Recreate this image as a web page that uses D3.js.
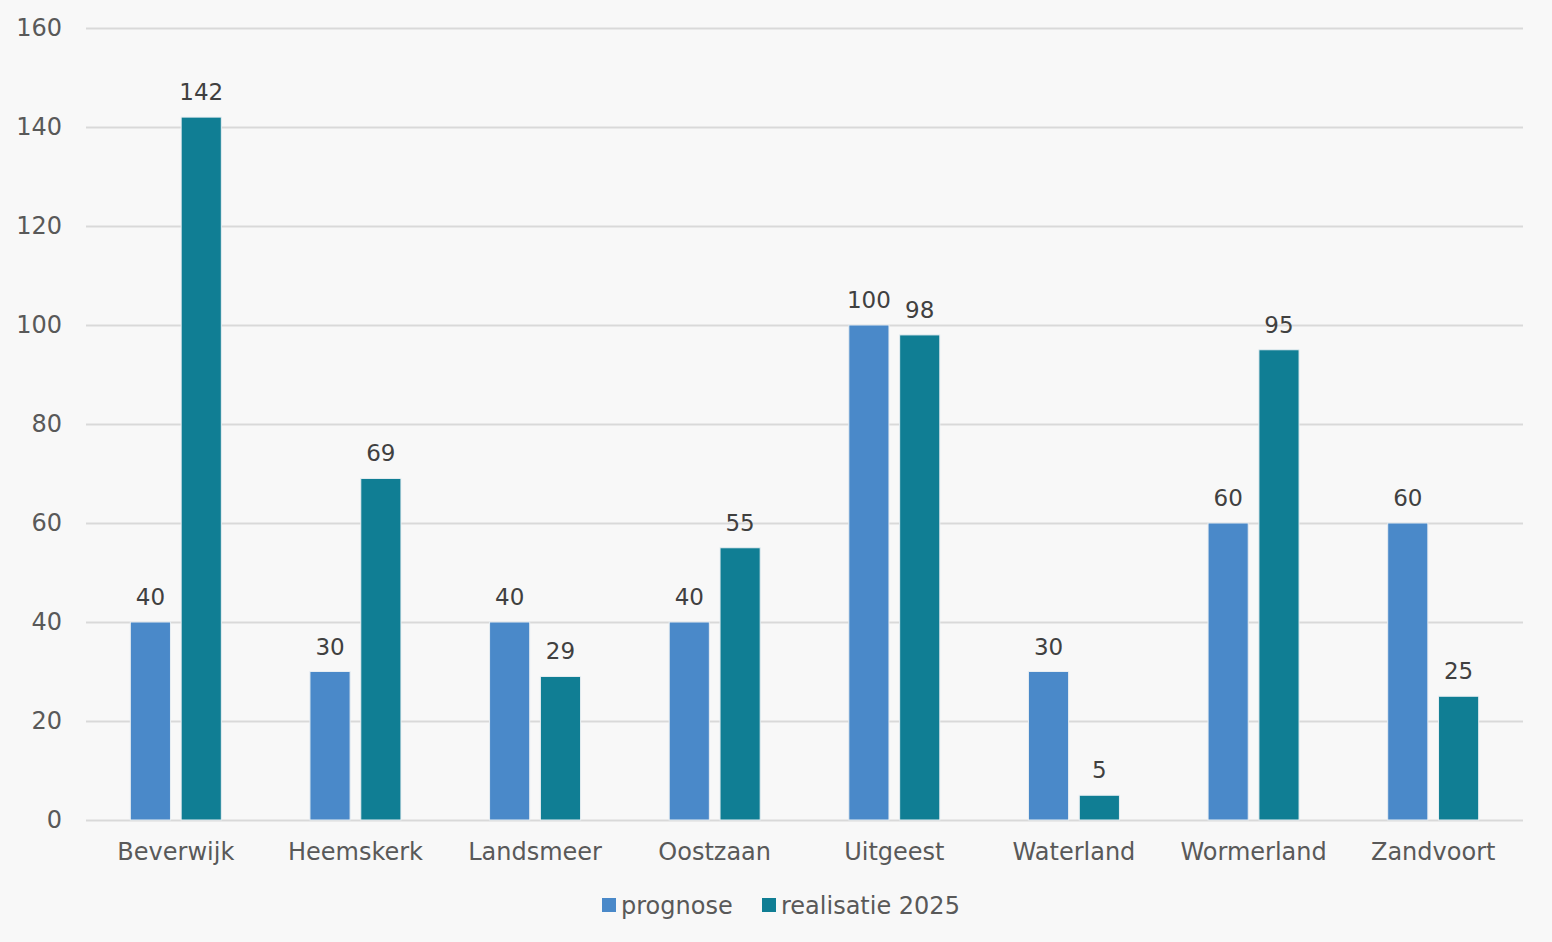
<!DOCTYPE html>
<html>
<head>
<meta charset="utf-8">
<script src="https://cdn.jsdelivr.net/npm/d3@7"></script>
<style>
	body { margin: 0; background: #f8f8f8; }
	svg { display: block; font-family: "DejaVu Sans", Verdana, sans-serif; }
</style>
</head>
<body>
<svg width="1552" height="942"></svg>
<script>
// data
var gemeenten = ["Beverwijk", "Heemskerk", "Landsmeer", "Oostzaan", "Uitgeest", "Waterland", "Wormerland", "Zandvoort"];
var prognose = [40, 30, 40, 40, 100, 30, 60, 60];
var realisatie = [142, 69, 29, 55, 98, 5, 95, 25];
var series = ["prognose", "realisatie 2025"];
var yTicks = [0, 20, 40, 60, 80, 100, 120, 140, 160];
var colors = ["#4a89c9", "#107e94"];

var svg = d3.select("svg"),
	width = +svg.attr("width"),
	height = +svg.attr("height");

svg.append("rect").attr("width", width).attr("height", height).attr("fill", "#f8f8f8");

var plotLeft = 86, plotRight = 1523, plotTop = 28, plotBottom = 820;
var font = "'DejaVu Sans', Verdana, sans-serif";

var x = d3.scaleBand()
	.domain(gemeenten)
	.range([plotLeft, plotRight]);

var xInner = d3.scaleBand()
	.domain(series)
	.range([0, 91])
	.paddingInner(0.21);

var y = d3.scaleLinear()
	.domain([0, 160])
	.range([plotBottom, plotTop]);

// grid + y labels
var yAxis = d3.axisLeft(y)
	.tickValues(yTicks)
	.tickSize(-(plotRight - plotLeft))
	.tickPadding(24);

var gy = svg.append("g")
	.attr("transform", "translate(" + plotLeft + ",0)")
	.call(yAxis)
	.attr("font-family", font)
	.attr("font-size", 24);
gy.select(".domain").remove();
gy.selectAll(".tick line").attr("stroke", "#d9d9d9").attr("stroke-width", 2);
gy.selectAll(".tick text").attr("fill", "#595959");

// x labels
var xAxis = d3.axisBottom(x).tickSize(0).tickPadding(23);
var gx = svg.append("g")
	.attr("transform", "translate(0," + plotBottom + ")")
	.call(xAxis)
	.attr("font-family", font)
	.attr("font-size", 24);
gx.select(".domain").remove();
gx.selectAll(".tick text").attr("fill", "#595959");

var rows = gemeenten.map(function (g, i) {
	return { name: g, values: [prognose[i], realisatie[i]] };
});

var groups = svg.append("g")
	.selectAll("g")
	.data(rows)
	.enter().append("g")
	.attr("transform", function (d) {
		return "translate(" + (x(d.name) + x.bandwidth() / 2 - 45.5) + ",0)";
	});

function pairs(d) {
	return d.values.map(function (v, j) { return { s: series[j], v: v, j: j }; });
}

groups.selectAll("rect")
	.data(pairs)
	.enter().append("rect")
	.attr("x", function (d) { return xInner(d.s); })
	.attr("y", function (d) { return y(d.v); })
	.attr("width", xInner.bandwidth())
	.attr("height", function (d) { return y(0) - y(d.v); })
	.attr("fill", function (d) { return colors[d.j]; })
	.attr("stroke", "#e8eef2")
	.attr("stroke-width", 1);

groups.selectAll("text")
	.data(pairs)
	.enter().append("text")
	.attr("x", function (d) { return xInner(d.s) + xInner.bandwidth() / 2; })
	.attr("y", function (d) { return y(d.v) - 17; })
	.attr("text-anchor", "middle")
	.attr("fill", "#404040")
	.style("font-size", "23px")
	.text(function (d) { return d.v; });

// legend
var legend = svg.append("g");
var legX = [602, 762];
series.forEach(function (s, i) {
	legend.append("rect")
		.attr("x", legX[i]).attr("y", 898)
		.attr("width", 14).attr("height", 14)
		.attr("fill", colors[i]);
	legend.append("text")
		.attr("x", legX[i] + 19).attr("y", 906)
		.attr("dy", "0.35em")
		.attr("fill", "#595959")
		.style("font-size", "24px")
		.text(s);
});
</script>
</body>
</html>
